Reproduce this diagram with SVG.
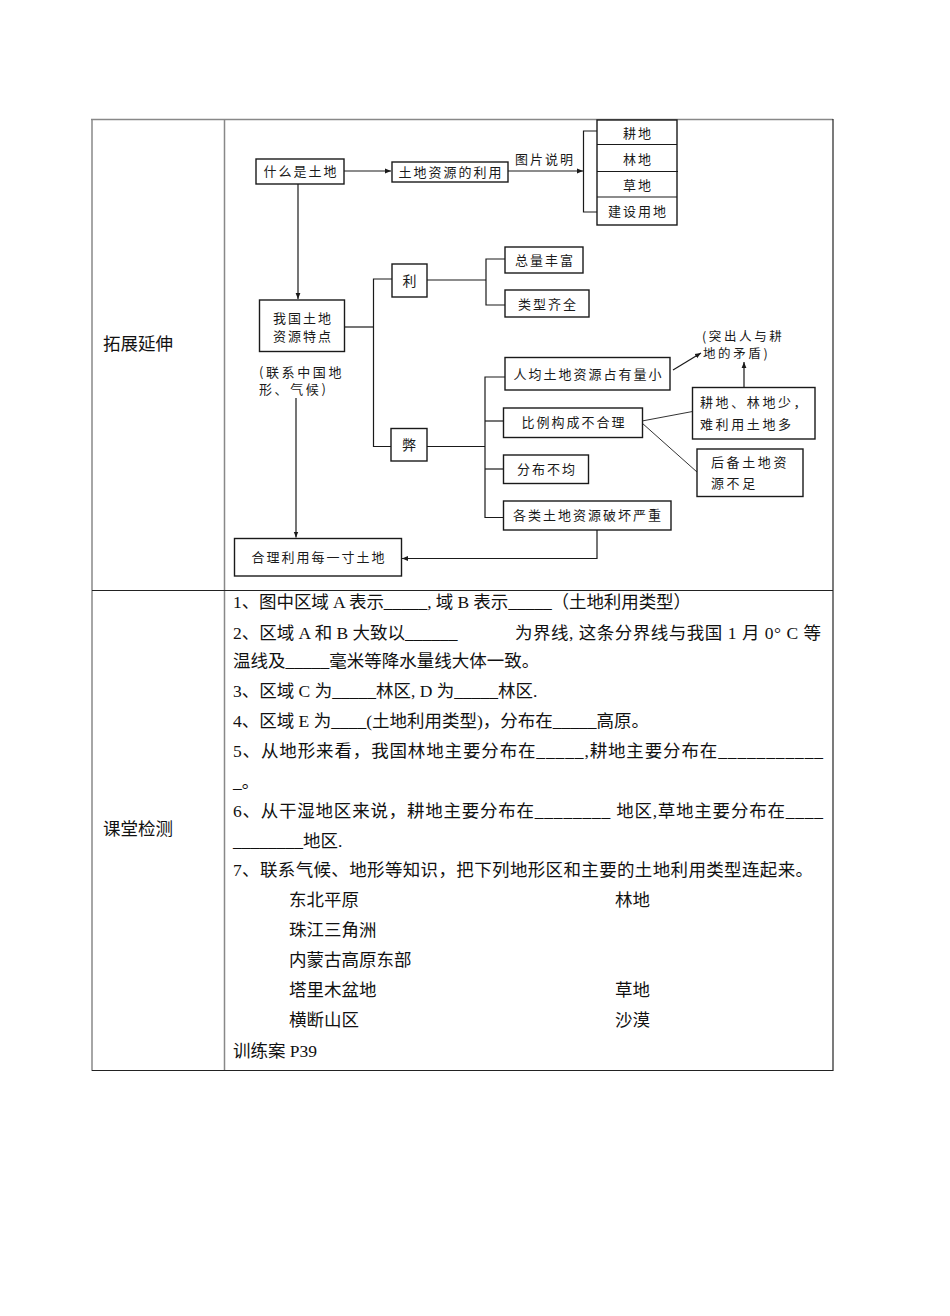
<svg xmlns="http://www.w3.org/2000/svg" width="950" height="1316" viewBox="0 0 950 1316">
<style>
.bx{fill:#fff;stroke:#1a1a1a;stroke-width:1.4}
.ln{fill:none;stroke:#1a1a1a;stroke-width:1.2}
.thin{fill:none;stroke:#333;stroke-width:1}
.d{font-family:"Noto Sans CJK SC","Noto Sans",sans-serif;font-size:13px;fill:#1a1a1a;letter-spacing:2px}
.dm{text-anchor:middle}
.lb{font-family:"Noto Sans CJK SC","Noto Sans",sans-serif;font-size:13px;fill:#1a1a1a;letter-spacing:2.6px}
.nt{font-family:"Noto Sans CJK SC","Noto Sans",sans-serif;font-size:12.5px;fill:#1a1a1a;letter-spacing:2.6px}
.t{font-family:"Liberation Serif","Noto Sans CJK SC",serif;font-size:17.5px;fill:#111}
.grid{fill:none;stroke:#888;stroke-width:1.5}
.gridk{fill:none;stroke:#222;stroke-width:1.2}
</style>
<defs>
<marker id="ah" viewBox="0 0 10 10" refX="10" refY="5" markerWidth="6" markerHeight="6" markerUnits="userSpaceOnUse" orient="auto">
<path d="M0,1 L10,5 L0,9 Z" fill="#1a1a1a"/>
</marker>
</defs>
<rect width="950" height="1316" fill="#fff"/>

<g id="table">
<line class="grid" x1="91" y1="119.5" x2="833" y2="119.5"/>
<line class="grid" x1="92" y1="119" x2="92" y2="1071"/>
<line class="grid" x1="224.5" y1="119" x2="224.5" y2="1071"/>
<line class="gridk" x1="833" y1="119" x2="833" y2="1071"/>
<line class="gridk" x1="92" y1="590.5" x2="833" y2="590.5"/>
<line class="gridk" x1="92" y1="1070.5" x2="833" y2="1070.5"/>
<text class="t" x="103" y="349.5">拓展延伸</text>
<text class="t" x="103" y="834.5">课堂检测</text>
</g>

<g id="connectors">
<line class="ln" x1="344" y1="171" x2="391" y2="171" marker-end="url(#ah)"/>
<line class="ln" x1="508" y1="171" x2="583" y2="171" marker-end="url(#ah)"/>
<path class="ln" d="M597,131 H583.5 V212 H597"/>
<line class="ln" x1="298" y1="184" x2="298" y2="299" marker-end="url(#ah)"/>
<path class="ln" d="M344,327 H373.5"/>
<path class="ln" d="M392,279 H373.5 V446.5 H391"/>
<path class="ln" d="M427,280 H486"/>
<path class="ln" d="M505,259 H486 V305 H505"/>
<path class="ln" d="M427,446.5 H485"/>
<path class="ln" d="M505,377 H485 V517.5 H503.5"/>
<path class="ln" d="M485,421 H503.5"/>
<path class="ln" d="M485,469 H503.5"/>
<line class="thin" x1="642" y1="421" x2="692.5" y2="411.5"/>
<line class="thin" x1="642" y1="423" x2="697" y2="472"/>
<line class="ln" x1="673" y1="370" x2="701" y2="353" marker-end="url(#ah)"/>
<line class="ln" x1="744" y1="387.5" x2="744" y2="362" marker-end="url(#ah)"/>
<path class="ln" d="M597,530 V558.5 H402" marker-end="url(#ah)"/>
<line class="ln" x1="296" y1="398" x2="296" y2="537.5" marker-end="url(#ah)"/>
<text class="d" x="515" y="164">图片说明</text>
</g>

<g id="n-what">
<rect class="bx" x="256" y="159" width="88" height="25"/>
<text class="d dm" x="301" y="176">什么是土地</text>
</g>
<g id="n-use">
<rect class="bx" x="392" y="162" width="116" height="20"/>
<text class="d dm" x="451" y="176.5">土地资源的利用</text>
</g>
<g id="n-types">
<rect class="bx" x="597" y="120" width="80" height="105"/>
<line class="ln" x1="597" y1="144.5" x2="677" y2="144.5"/>
<line class="ln" x1="597" y1="171.5" x2="678" y2="171.5"/>
<line class="ln" x1="597" y1="197" x2="677" y2="197"/>
<text class="d dm" x="638" y="137.5">耕地</text>
<text class="d dm" x="638" y="163.5">林地</text>
<text class="d dm" x="638" y="189.5">草地</text>
<text class="d dm" x="638" y="216">建设用地</text>
</g>
<g id="n-feature">
<rect class="bx" x="259.5" y="300" width="85" height="51.5"/>
<text class="d dm" x="303" y="322.5">我国土地</text>
<text class="d dm" x="303" y="340.5">资源特点</text>
<text class="lb" x="259" y="376.5">(联系中国地</text>
<text class="lb" x="259" y="393.5">形、气候)</text>
</g>
<g id="n-li">
<rect class="bx" x="392" y="264" width="35" height="33"/>
<text class="d dm" x="410.5" y="285.5" style="font-size:14px">利</text>
</g>
<g id="n-total">
<rect class="bx" x="505" y="247" width="78" height="26"/>
<text class="d dm" x="545" y="264.5">总量丰富</text>
</g>
<g id="n-kind">
<rect class="bx" x="505" y="290" width="84" height="27"/>
<text class="d dm" x="548" y="308.5">类型齐全</text>
</g>
<g id="n-bi">
<rect class="bx" x="391" y="428.5" width="36" height="32.5"/>
<text class="d dm" x="410" y="450" style="font-size:14px">弊</text>
</g>
<g id="n-percap">
<rect class="bx" x="505" y="357.5" width="165" height="32.5"/>
<text class="d dm" x="588.5" y="379">人均土地资源占有量小</text>
</g>
<g id="n-ratio">
<rect class="bx" x="503.5" y="408" width="139" height="29.5"/>
<text class="d dm" x="574" y="427">比例构成不合理</text>
</g>
<g id="n-uneven">
<rect class="bx" x="503.5" y="455" width="85" height="28.5"/>
<text class="d dm" x="547" y="473.5">分布不均</text>
</g>
<g id="n-damage">
<rect class="bx" x="503.5" y="501" width="167.5" height="29"/>
<text class="d dm" x="588" y="520">各类土地资源破坏严重</text>
</g>
<g id="n-less">
<rect class="bx" x="692.5" y="387.5" width="122.5" height="51.5"/>
<text class="lb" x="700" y="406.5">耕地、林地少，</text>
<text class="lb" x="700" y="429">难利用土地多</text>
</g>
<g id="n-reserve">
<rect class="bx" x="697" y="449" width="106" height="47.5"/>
<text class="lb" x="711" y="466.5">后备土地资</text>
<text class="lb" x="711" y="488">源不足</text>
</g>
<g id="n-note">
<text class="nt" x="702" y="340.5">(突出人与耕</text>
<text class="nt" x="703" y="358">地的矛盾)</text>
</g>
<g id="n-rational">
<rect class="bx" x="234.5" y="538.5" width="167" height="37.5"/>
<text class="d dm" x="319" y="561.5">合理利用每一寸土地</text>
</g>

<g id="questions">
<text class="t" x="233" y="607.5" textLength="458" lengthAdjust="spacing">1、图中区域 A 表示_____, 域 B 表示_____（土地利用类型）</text>
<text class="t" x="233" y="638.5">2、区域 A 和 B 大致以______</text>
<text class="t" x="515" y="638.5" textLength="306" lengthAdjust="spacing">为界线, 这条分界线与我国 1 月 0° C 等</text>
<text class="t" x="233" y="666.5">温线及_____毫米等降水量线大体一致。</text>
<text class="t" x="233" y="696.5">3、区域 C 为_____林区, D 为_____林区.</text>
<text class="t" x="233" y="726.5">4、区域 E 为____(土地利用类型)，分布在_____高原。</text>
<text class="t" x="233" y="756.5" textLength="590" lengthAdjust="spacing">5、从地形来看，我国林地主要分布在_____,耕地主要分布在___________</text>
<text class="t" x="233" y="787.5">_。</text>
<text class="t" x="233" y="816.5" textLength="590" lengthAdjust="spacing">6、从干湿地区来说，耕地主要分布在________ 地区,草地主要分布在____</text>
<text class="t" x="233" y="846.5">________地区.</text>
<text class="t" x="233" y="875.5" textLength="580" lengthAdjust="spacing">7、联系气候、地形等知识，把下列地形区和主要的土地利用类型连起来。</text>
<text class="t" x="289" y="905.5">东北平原</text>
<text class="t" x="615" y="905.5">林地</text>
<text class="t" x="289" y="935.5">珠江三角洲</text>
<text class="t" x="289" y="965.5">内蒙古高原东部</text>
<text class="t" x="289" y="995.5">塔里木盆地</text>
<text class="t" x="615" y="995.5">草地</text>
<text class="t" x="289" y="1025.5">横断山区</text>
<text class="t" x="615" y="1025.5">沙漠</text>
<text class="t" x="233" y="1056.5">训练案 P39</text>
</g>
</svg>
